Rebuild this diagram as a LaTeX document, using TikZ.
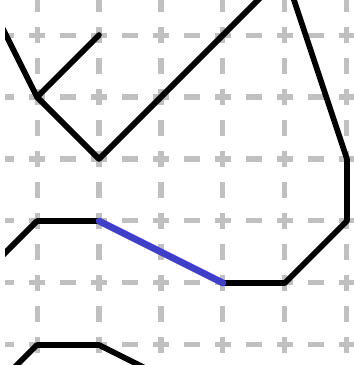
\documentclass[tikz,border=0pt]{standalone}
\usepackage{xcolor}
\usepackage{tikz}
\definecolor{gridgray}{HTML}{C0C0C0}
\definecolor{walkblack}{HTML}{000000}
\definecolor{hiliteblue}{HTML}{3F3FC8}

\begin{document}
\begin{tikzpicture}[x=1cm,y=1cm,
  gridline/.style={gridgray,line width=2.3pt,dash pattern=on 0.258cm off 0.242cm},
  walk/.style={walkblack,line width=2.6pt,line cap=round,line join=round},
  hilite/.style={hiliteblue,line width=3.1pt,line cap=round}]
  \useasboundingbox (-0.597,-0.323) rectangle (5.113,5.565);
  \clip (-0.516,-0.323) rectangle (5.113,5.565);
  % dashed lattice
  \foreach \k in {0,...,5} {
    \draw[gridline] (\k,-0.629) -- (\k,5.871);
    \draw[gridline] (-1.129,\k) -- (5.871,\k);
  }
  % lattice points
  \foreach \i in {-1,...,5} {
    \foreach \j in {-1,...,6} {
      \coordinate (p\i y\j) at (\i,\j);
    }
  }
  \draw[walk] (p-1y6) -- (p0y4) -- (p1y3) -- (p4y6) -- (p5y3) -- (p5y2) -- (p4y1) -- (p3y1);
  \draw[walk] (p0y4) -- (p1y5);
  \draw[walk] (p1y2) -- (p0y2) -- (p-1y1);
  \draw[walk] (p-1y-1) -- (p0y0) -- (p1y0) -- (p3y-1);
  \draw[hilite] (p3y1) -- (p1y2);
\end{tikzpicture}
\end{document}
